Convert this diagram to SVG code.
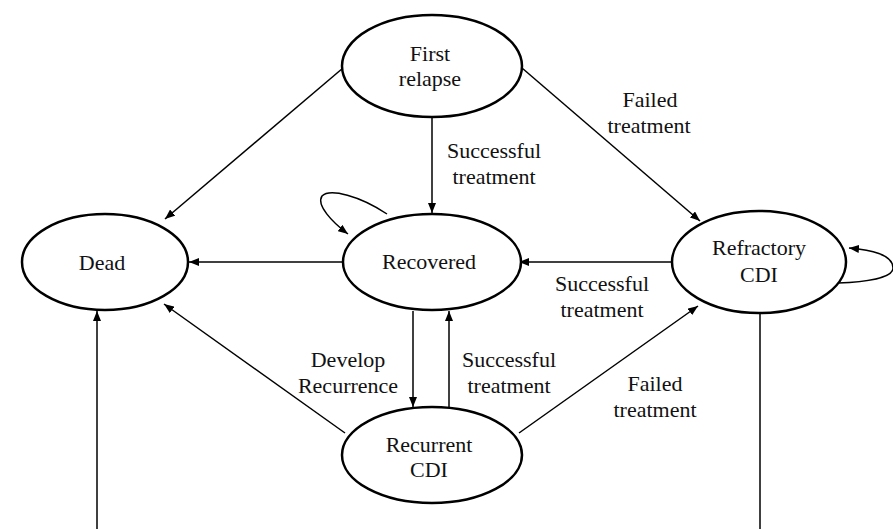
<svg xmlns="http://www.w3.org/2000/svg" width="893" height="529" viewBox="0 0 893 529">
<style>
.n{fill:#fff;stroke:#000;stroke-width:2.5}
.t{font-family:'Liberation Serif','Times New Roman',serif;font-size:22px;fill:#111;text-anchor:middle}
.e{fill:none;stroke:#000;stroke-width:1.5;marker-end:url(#a)}
.p{fill:none;stroke:#000;stroke-width:1.5}
</style>
<defs>
<marker id="a" markerWidth="10" markerHeight="8" refX="10" refY="4" orient="auto" markerUnits="userSpaceOnUse">
<path d="M0,0 L10,4 L0,8 Z" fill="#000"/>
</marker>
</defs>
<rect width="893" height="529" fill="#fff"/>
<g id="connectors">
<line class="e" x1="343" y1="68" x2="165" y2="219"/>
<line class="e" x1="432" y1="117" x2="432" y2="213"/>
<line class="e" x1="522" y1="68" x2="700" y2="221"/>
<line class="e" x1="343" y1="262" x2="189" y2="262"/>
<line class="e" x1="672" y1="262" x2="519" y2="262"/>
<line class="e" x1="413" y1="311" x2="413" y2="407"/>
<line class="e" x1="449" y1="407" x2="449" y2="311"/>
<line class="e" x1="345" y1="433" x2="164" y2="304"/>
<line class="e" x1="519" y1="433" x2="698" y2="306"/>
<line class="e" x1="97" y1="529" x2="97" y2="311"/>
<line class="p" x1="760" y1="313" x2="760" y2="529"/>
<path class="e" d="M387,214 C360,196 330,188 322,196 C316,205 332,222 348,234"/>
<path class="e" d="M838,283 C865,282 893,278 893,268 C893,254 870,250 849,248"/>
<g font-family="Liberation Serif, serif">
<text class="t" x="494" y="158">Successful</text>
<text class="t" x="494" y="184">treatment</text>
<text class="t" x="650" y="107">Failed</text>
<text class="t" x="649" y="133">treatment</text>
<text class="t" x="602" y="291">Successful</text>
<text class="t" x="602" y="317">treatment</text>
<text class="t" x="348" y="367">Develop</text>
<text class="t" x="348" y="393">Recurrence</text>
<text class="t" x="509" y="367">Successful</text>
<text class="t" x="509" y="393">treatment</text>
<text class="t" x="655" y="391">Failed</text>
<text class="t" x="655" y="417">treatment</text>
</g>
</g>
<g id="first-relapse">
<ellipse class="n" cx="432" cy="66" rx="90" ry="51"/>
<text class="t" x="430" y="61">First</text>
<text class="t" x="430" y="86">relapse</text>
</g>
<g id="dead">
<ellipse class="n" cx="105" cy="262" rx="83" ry="48"/>
<text class="t" x="102" y="270">Dead</text>
</g>
<g id="recovered">
<ellipse class="n" cx="432" cy="262" rx="89" ry="48"/>
<text class="t" x="429" y="269">Recovered</text>
</g>
<g id="refractory-cdi">
<ellipse class="n" cx="759" cy="262" rx="87" ry="51"/>
<text class="t" x="759" y="255">Refractory</text>
<text class="t" x="759" y="282">CDI</text>
</g>
<g id="recurrent-cdi">
<ellipse class="n" cx="432" cy="455" rx="90" ry="48"/>
<text class="t" x="429" y="452">Recurrent</text>
<text class="t" x="429" y="477">CDI</text>
</g>
</svg>
